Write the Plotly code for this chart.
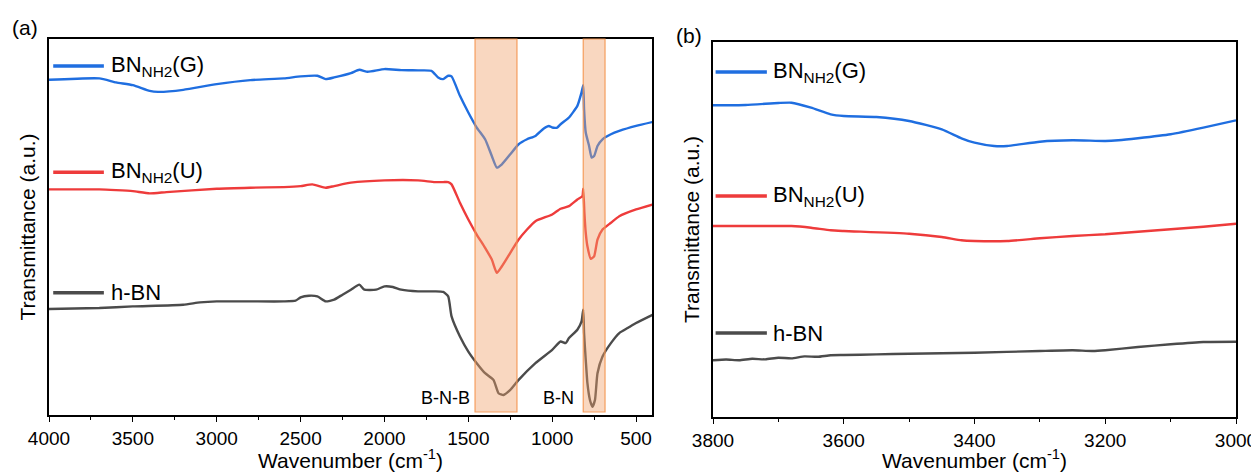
import plotly.graph_objects as go

# ---------------- Panel (a) data ----------------
wn_a_blue = [4000, 3700, 3600, 3500, 3400, 3350, 3200, 3000, 2800, 2600, 2500, 2400, 2350, 2300,
             2200, 2150, 2100, 2000, 1900, 1800, 1720, 1680, 1650, 1620, 1600, 1550, 1500, 1450,
             1400, 1360, 1330, 1300, 1250, 1200, 1150, 1100, 1050, 1020, 1000, 970, 950, 900,
             850, 825, 815, 810, 800, 780, 765, 750, 730, 700, 650, 600, 500, 400]
t_a_blue = [334.3, 335.7, 331.7, 329, 323.3, 322.3, 324.3, 330, 334, 335.7, 337.7, 338.3, 335, 336.7,
            341, 344.3, 342.3, 345, 344, 343.7, 343.3, 336.7, 335, 338.3, 337.7, 318.3, 301.7, 286.7,
            275, 258.3, 246.7, 250, 260, 270, 275, 278.3, 285.7, 288.3, 286.7, 286.7, 290, 296.7,
            308.3, 321.7, 329, 305, 281.7, 268.3, 256.7, 258.3, 268.3, 275, 280, 283.3, 288.3, 292.3]

wn_a_red = [4000, 3700, 3600, 3500, 3400, 3300, 3000, 2800, 2600, 2500, 2430, 2350, 2300, 2200,
            2000, 1800, 1700, 1650, 1620, 1600, 1550, 1500, 1450, 1400, 1360, 1330, 1300, 1250,
            1200, 1150, 1100, 1000, 950, 900, 850, 820, 815, 808, 800, 790, 770, 750, 730, 700,
            650, 600, 500, 400]
t_a_red = [225, 225, 224.3, 223.3, 221, 222.3, 225.7, 226.7, 227.3, 228.3, 230, 226.7, 228.3, 231.7,
           234, 234, 232.3, 232.3, 232.3, 230, 211.7, 195, 180, 166.7, 155, 141.7, 148.3, 161.7,
           175, 185, 193.3, 200, 205.7, 208.3, 215, 218.3, 225.7, 201.7, 181.7, 168.3, 155.7, 158.3,
           175, 185, 191.7, 198.3, 205, 210]

wn_a_gray = [4000, 3700, 3500, 3200, 3100, 3000, 2800, 2600, 2530, 2500, 2450, 2400, 2350, 2300,
             2250, 2200, 2150, 2120, 2050, 2000, 1950, 1900, 1800, 1700, 1650, 1620, 1600, 1550,
             1500, 1450, 1400, 1350, 1320, 1290, 1250, 1200, 1100, 1000, 950, 920, 900, 850,
             825, 815, 810, 800, 790, 775, 760, 745, 730, 700, 650, 600, 550, 500, 400]
t_a_gray = [105.7, 106.7, 108.3, 110, 112.3, 113.3, 113.3, 113.3, 114, 117.3, 119, 118.3, 113.3, 115,
            120, 125, 130, 125, 125, 128.3, 127.7, 125, 123.3, 123.3, 122.7, 118.3, 98.3, 78.3,
            63.3, 51.7, 41.7, 35, 21.7, 20, 25, 35, 51.7, 65, 73.3, 71.7, 76.7, 85,
            93.3, 105, 81.7, 55, 31.7, 15, 8.3, 15, 41.7, 58.3, 71.7, 81.7, 86.7, 91.7, 100]

# ---------------- Panel (b) data ----------------
wn_b_blue = [3800, 3750, 3700, 3680, 3650, 3620, 3600, 3550, 3500, 3450, 3420, 3400, 3370, 3350,
             3300, 3250, 3200, 3180, 3150, 3100, 3050, 3000]
t_b_blue = [311.7, 312, 314, 314.3, 309.3, 302.7, 301, 300, 296, 287.7, 278.7, 274.3, 271, 271,
            275.3, 276.7, 276, 276.7, 278.7, 282.7, 289.3, 296.7]

wn_b_red = [3800, 3700, 3680, 3650, 3620, 3600, 3500, 3450, 3420, 3400, 3350, 3300, 3250, 3200,
            3150, 3100, 3050, 3000]
t_b_red = [191, 191, 191, 189.3, 186.7, 186, 183.3, 180, 176.7, 176, 176, 178.7, 181, 182.7,
           185.3, 187.7, 190.3, 193.3]

wn_b_gray = [3800, 3780, 3760, 3740, 3720, 3700, 3680, 3660, 3640, 3620, 3600, 3550, 3500, 3400,
             3300, 3250, 3220, 3200, 3150, 3100, 3050, 3000]
t_b_gray = [56.7, 57.5, 56.8, 58.2, 57.6, 59.3, 58.6, 60.6, 60.2, 61.8, 62, 62.6, 63.3, 64.3,
            66, 66.7, 66, 66.7, 70, 72.7, 75, 75.3]

# Bands
band_bnb = [1460, 1210]
band_bn = [815, 685]

labels = ["BN<sub>NH2</sub>(G)", "BN<sub>NH2</sub>(U)", "h-BN"]
colors = ["#1f6ee0", "#ee3b3b", "#4b4b4b"]

# page body has an 8 px margin: size the figure so it fills the window exactly
W, H, OFF = 1251, 465, 8


def px(sx):
    return (sx - OFF) / W


def py(sy):
    return 1 - (sy - OFF) / H


fig = go.Figure()
FONT = "Liberation Sans, Arial, sans-serif"

line_style = dict(width=2.4, shape="spline", smoothing=0.5)
for wn, t, c in [(wn_a_blue, t_a_blue, colors[0]), (wn_a_red, t_a_red, colors[1]),
                 (wn_a_gray, t_a_gray, colors[2])]:
    fig.add_trace(go.Scatter(x=wn, y=t, mode="lines", line=dict(color=c, **line_style),
                             xaxis="x", yaxis="y", showlegend=False))
for wn, t, c in [(wn_b_blue, t_b_blue, colors[0]), (wn_b_red, t_b_red, colors[1]),
                 (wn_b_gray, t_b_gray, colors[2])]:
    fig.add_trace(go.Scatter(x=wn, y=t, mode="lines", line=dict(color=c, **line_style),
                             xaxis="x2", yaxis="y2", showlegend=False))

axis_common = dict(showline=True, linecolor="black", linewidth=1.5, mirror=True,
                   ticks="outside", ticklen=5, tickwidth=1.2, tickcolor="black",
                   showgrid=False, zeroline=False, automargin=False,
                   tickfont=dict(family=FONT, size=19, color="black"))
title_font = dict(family=FONT, size=21, color="black")
yaxis_common = dict(range=[0, 375], showticklabels=False, ticks="", automargin=False,
                    showline=True, linecolor="black", linewidth=1.5, mirror=True, showgrid=False,
                    zeroline=False)

fig.update_layout(
    width=W, height=H,
    margin=dict(l=0, r=0, t=0, b=0),
    paper_bgcolor="white", plot_bgcolor="white",
    xaxis=dict(domain=[px(49), px(652)], range=[4000, 405],
               tickvals=[4000, 3500, 3000, 2500, 2000, 1500, 1000, 500],
               minor=dict(ticks="outside", ticklen=3, tickcolor="black", dtick=250, tick0=0),
               **axis_common),
    yaxis=dict(domain=[py(415), py(39)],
               title=dict(text="Transmittance (a.u.)", font=title_font, standoff=6),
               **yaxis_common),
    xaxis2=dict(domain=[px(713), px(1236)], range=[3800, 3000], anchor="y2",
                tickvals=[3800, 3600, 3400, 3200, 3000],
                minor=dict(ticks="outside", ticklen=3, tickcolor="black", dtick=100, tick0=0),
                **axis_common),
    yaxis2=dict(domain=[py(417), py(42)], anchor="x2",
                title=dict(text="Transmittance (a.u.)", font=title_font, standoff=6),
                **yaxis_common),
)

# x-axis titles
for cx in ((49 + 652) / 2, (713 + 1236) / 2):
    fig.add_annotation(xref="paper", yref="paper", x=px(cx), y=py(459), text="Wavenumber (cm<sup>-1</sup>)",
                       showarrow=False, xanchor="center", yanchor="middle", font=title_font)

# Band shading (drawn above the lines, semi-transparent)
for band in (band_bnb, band_bn):
    fig.add_shape(type="rect", xref="x", yref="y domain", x0=band[0], x1=band[1], y0=0.008, y1=1.0,
                  fillcolor="rgba(240,160,105,0.42)", line=dict(color="rgba(245,150,80,0.9)", width=1.2),
                  layer="above")

fig.add_annotation(x=1637, y=17, xref="x", yref="y", text="B-N-B", showarrow=False,
                   font=dict(family=FONT, size=18, color="black"))
fig.add_annotation(x=963, y=17, xref="x", yref="y", text="B-N", showarrow=False,
                   font=dict(family=FONT, size=18, color="black"))

# In-plot legends
leg_a_y = [348, 242, 122]
leg_b_y = [345, 221, 84]
for i in range(3):
    fig.add_shape(type="line", xref="x domain", yref="y", x0=0.007, x1=0.091, y0=leg_a_y[i], y1=leg_a_y[i],
                  line=dict(color=colors[i], width=3.5))
    fig.add_annotation(xref="x domain", yref="y", x=0.100, y=leg_a_y[i], text=labels[i], showarrow=False,
                       xanchor="left", font=dict(family=FONT, size=22, color="black"))
    fig.add_shape(type="line", xref="x2 domain", yref="y2", x0=0.005, x1=0.103, y0=leg_b_y[i], y1=leg_b_y[i],
                  line=dict(color=colors[i], width=3.5))
    fig.add_annotation(xref="x2 domain", yref="y2", x=0.110, y=leg_b_y[i], text=labels[i], showarrow=False,
                       xanchor="left", font=dict(family=FONT, size=22, color="black"))

fig.add_annotation(xref="paper", yref="paper", x=px(25), y=py(27), text="(a)", showarrow=False,
                   xanchor="center", yanchor="middle", font=dict(family=FONT, size=21, color="black"))
fig.add_annotation(xref="paper", yref="paper", x=px(689), y=py(35), text="(b)", showarrow=False,
                   xanchor="center", yanchor="middle", font=dict(family=FONT, size=21, color="black"))

fig.write_html("out.html")
